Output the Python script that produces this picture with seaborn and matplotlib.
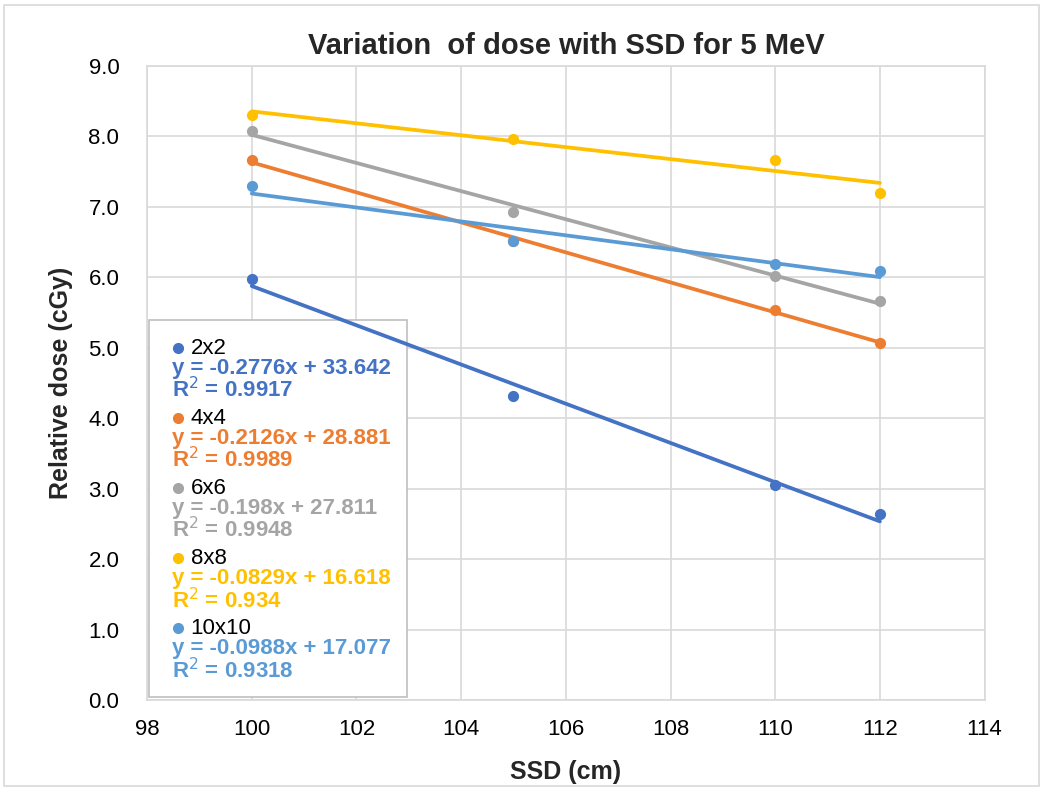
import numpy as np
import pandas as pd
import matplotlib
matplotlib.use('Agg')
import matplotlib.pyplot as plt
import seaborn as sns
from matplotlib.patches import Rectangle

# values
ssd = [100, 105, 110, 112]
dose_2x2 = [5.98, 4.32, 3.05, 2.64]
dose_4x4 = [7.66, 6.51, 5.54, 5.07]
dose_6x6 = [8.08, 6.93, 6.02, 5.67]
dose_8x8 = [8.31, 7.97, 7.66, 7.20]
dose_10x10 = [7.30, 6.51, 6.19, 6.09]

fields = ['2x2', '4x4', '6x6', '8x8', '10x10']
colors = ['#4472C4', '#ED7D31', '#A5A5A5', '#FFC000', '#5B9BD5']
equations = ['y = -0.2776x + 33.642', 'y = -0.2126x + 28.881', 'y = -0.198x + 27.811',
             'y = -0.0829x + 16.618', 'y = -0.0988x + 17.077']
r2_vals = ['0.9917', '0.9989', '0.9948', '0.934', '0.9318']

df = pd.DataFrame({'ssd': ssd * 5,
                   'dose': dose_2x2 + dose_4x4 + dose_6x6 + dose_8x8 + dose_10x10,
                   'field': sum([[f] * len(ssd) for f in fields], [])})

sns.set_style('white')
plt.rcParams['font.family'] = ['Liberation Sans', 'DejaVu Sans']

fig = plt.figure(figsize=(10.43, 7.89), dpi=100)
ax = fig.add_axes([0.141, 0.1128, 0.803, 0.8035])

for f, c in zip(fields, colors):
    sub = df[df['field'] == f]
    sns.regplot(data=sub, x='ssd', y='dose', ax=ax, ci=None, truncate=True, color=c,
                scatter_kws={'s': 65, 'zorder': 4, 'linewidths': 0, 'alpha': 1},
                line_kws={'lw': 2.7, 'zorder': 3})

ax.set_xlim(98, 114)
ax.set_ylim(0, 9)
ax.set_xticks(np.arange(98, 115, 2))
ax.set_yticks(np.arange(0, 9.1, 1))
ax.set_yticklabels([f'{v:.1f}' for v in np.arange(0, 9.1, 1)])
ax.grid(True, color='#D9D9D9', lw=1.2)
ax.set_axisbelow(True)
for s in ax.spines.values():
    s.set_color('#D9D9D9')
    s.set_linewidth(1.2)
ax.tick_params(axis='both', labelsize=16, length=0, colors='#000000')
ax.tick_params(axis='x', pad=14)
ax.tick_params(axis='y', pad=20)
ax.set_xlabel('SSD (cm)', fontsize=18, fontweight='bold', labelpad=14)
ax.set_ylabel('Relative dose (cGy)', fontsize=18, fontweight='bold', labelpad=11)
ax.set_title('Variation  of dose with SSD for 5 MeV', fontsize=21, fontweight='bold', pad=9)

# legend box with trendline labels
ax.add_patch(Rectangle((0.002, 0.005), 0.308, 0.594, transform=ax.transAxes,
                       facecolor='white', edgecolor='#BFBFBF', lw=1.2, zorder=2.5))
top = 0.555
step = 0.1105
for i, (f, c) in enumerate(zip(fields, colors)):
    y0 = top - i * step
    ax.plot([0.037], [y0], 'o', color=c, ms=7, transform=ax.transAxes, zorder=5)
    ax.text(0.052, y0, f, fontsize=16, color='black', va='center', transform=ax.transAxes, zorder=5)
    ax.text(0.030, y0 - 0.032, equations[i], fontsize=16, color=c, fontweight='bold',
            va='center', transform=ax.transAxes, zorder=5)
    ax.text(0.030, y0 - 0.066, 'R$^{2}$ = ' + r2_vals[i], fontsize=16, color=c, fontweight='bold',
            va='center', transform=ax.transAxes, zorder=5)

fig.patches.append(Rectangle((0.004, 0.004), 0.992, 0.99, transform=fig.transFigure,
                             fill=False, edgecolor='#D9D9D9', lw=1.2))

fig.savefig('out.png', dpi=100)
